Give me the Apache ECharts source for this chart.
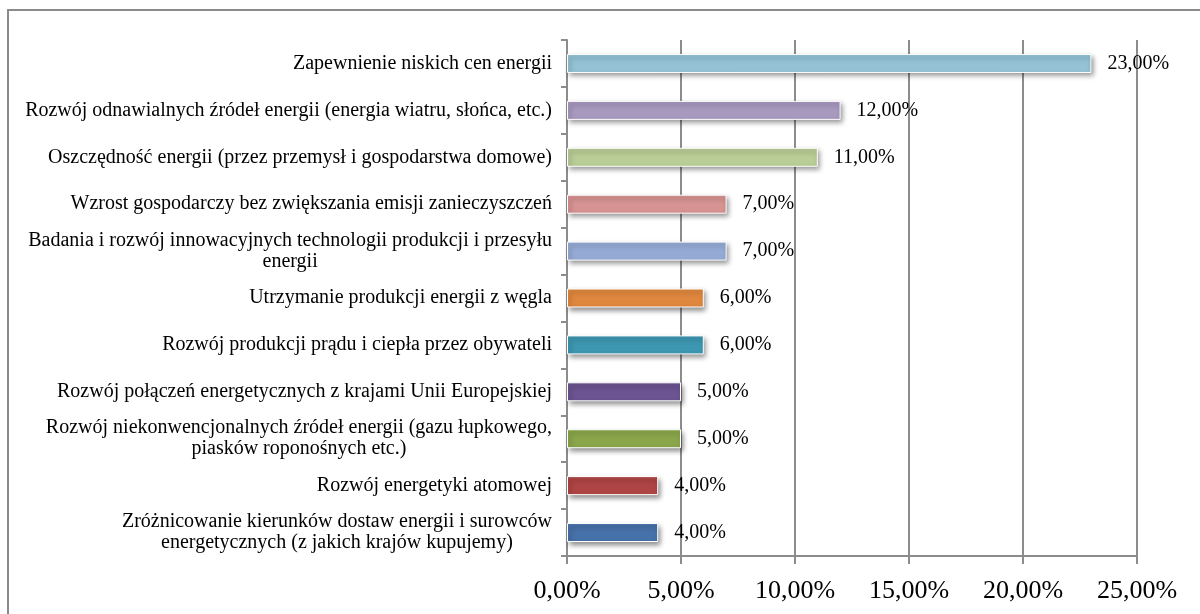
<!DOCTYPE html>
<html>
<head>
<meta charset="utf-8">
<script src="https://cdn.jsdelivr.net/npm/echarts@6/dist/echarts.min.js"></script>
<style>
  html, body { margin: 0; padding: 0; background: #fff; }
  #chart { width: 1200px; height: 614px; }
</style>
</head>
<body>
<div id="chart"></div>
<script>
// kategorie (od góry do dołu)
const categories = [
  'Zapewnienie niskich cen energii',
  'Rozwój odnawialnych źródeł energii (energia wiatru, słońca, etc.)',
  'Oszczędność energii (przez przemysł i gospodarstwa domowe)',
  'Wzrost gospodarczy bez zwiększania emisji zanieczyszczeń',
  'Badania i rozwój innowacyjnych technologii produkcji i przesyłu\nenergii',
  'Utrzymanie produkcji energii z węgla',
  'Rozwój produkcji prądu i ciepła przez obywateli',
  'Rozwój połączeń energetycznych z krajami Unii Europejskiej',
  'Rozwój niekonwencjonalnych źródeł energii (gazu łupkowego,\npiasków roponośnych etc.)',
  'Rozwój energetyki atomowej',
  'Zróżnicowanie kierunków dostaw energii i surowców\nenergetycznych (z jakich krajów kupujemy)'
]
// wartości w %
const values = [23, 12, 11, 7, 7, 6, 6, 5, 5, 4, 4]
const barColors = [
  '#93c3d5', '#a899bf', '#b9cd96', '#d69392', '#95abd6', '#e0873e',
  '#3d97b1', '#6c5391', '#8aa64b', '#ae4544', '#4671a9'
]
const xTicks = [0, 5, 10, 15, 20, 25]

const fmt = v => v.toFixed(2).replace('.', ',') + '%'
const font = 'Liberation Serif'

const chart = echarts.init(document.getElementById('chart'))

const option = {
  animation: false,
  backgroundColor: '#fff',
  graphic: [
    {
      type: 'rect',
      shape: { x: 8, y: 10, width: 1200, height: 700 },
      style: { fill: 'none', stroke: '#8a8a8a', lineWidth: 2 }
    }
  ],
  grid: { left: 567, right: 63, top: 40, bottom: 58 },
  xAxis: {
    type: 'value',
    min: xTicks[0],
    max: xTicks[xTicks.length - 1],
    interval: 5,
    axisLine: { show: true, lineStyle: { color: '#8c8c8c', width: 2 } },
    axisTick: { show: true, length: 8, lineStyle: { color: '#8c8c8c', width: 2 } },
    splitLine: { show: true, lineStyle: { color: '#8c8c8c', width: 2 } },
    axisLabel: {
      margin: 22,
      color: '#000',
      fontFamily: font,
      fontSize: 26,
      formatter: fmt
    }
  },
  yAxis: {
    type: 'category',
    inverse: true,
    data: categories,
    axisLine: { show: true, lineStyle: { color: '#8c8c8c', width: 2 } },
    axisTick: { show: true, length: 6, lineStyle: { color: '#8c8c8c', width: 2 } },
    axisLabel: {
      margin: 15,
      color: '#000',
      fontFamily: font,
      fontSize: 20,
      lineHeight: 21,
      formatter: v => v.split('\n').map(s => '{c|' + s + '}').join('\n'),
      rich: {
        c: { align: 'center', fontFamily: font, fontSize: 20, lineHeight: 21, color: '#000' }
      }
    }
  },
  series: [
    {
      type: 'bar',
      barWidth: 19,
      data: values.map((v, i) => ({
        value: v,
        itemStyle: { color: barColors[i] }
      })),
      itemStyle: {
        borderColor: '#fff',
        borderWidth: 1,
        shadowColor: 'rgba(0,0,0,0.45)',
        shadowBlur: 5,
        shadowOffsetX: 2,
        shadowOffsetY: 3
      },
      label: {
        show: true,
        position: 'right',
        distance: 16,
        color: '#000',
        fontFamily: font,
        fontSize: 20,
        formatter: p => fmt(p.value)
      }
    }
  ]
}

chart.setOption(option)
</script>
</body>
</html>
